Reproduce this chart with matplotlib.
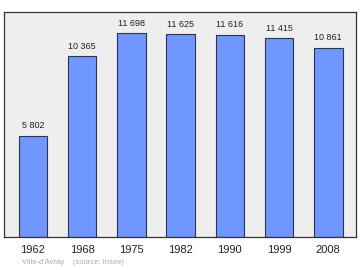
import matplotlib
matplotlib.use('Agg')
import matplotlib.pyplot as plt

plt.rcParams['font.family'] = ['Liberation Sans', 'DejaVu Sans']

years = ['1962', '1968', '1975', '1982', '1990', '1999', '2008']
population = [5802, 10365, 11698, 11625, 11616, 11415, 10861]
labels = ['5 802', '10 365', '11 698', '11 625', '11 616', '11 415', '10 861']

fig = plt.figure(figsize=(3.6, 2.7), dpi=100)
ax = fig.add_axes([4 / 360, 1 - 237 / 270, (355.6 - 4) / 360, (237 - 12) / 270])
ax.set_facecolor('#eeeeee')

x = list(range(len(years)))
ax.bar(x, population, width=0.58, color='#6f97ff', edgecolor='#2a3550', linewidth=0.8)

for xi, v, lab in zip(x, population, labels):
    ax.annotate(lab, (xi, v), xytext=(0, 4), textcoords='offset points',
                ha='center', va='bottom', fontsize=6.5, color='#222222')

ax.set_xlim(-0.589, 6.555)
ax.set_ylim(0, 12916)
ax.set_xticks(x)
ax.set_xticklabels(years, fontsize=8, color='#222222')
ax.set_yticks([])
ax.tick_params(axis='x', length=0, pad=6)
for s in ax.spines.values():
    s.set_color('#333333')
    s.set_linewidth(0.9)

fig.text(22 / 360, 1 - 263 / 270, "Ville-d'Avray    (source: Insee)", fontsize=5.5,
         color='#aaaaaa', va='center', ha='left')

plt.savefig('out.png', dpi=100)
